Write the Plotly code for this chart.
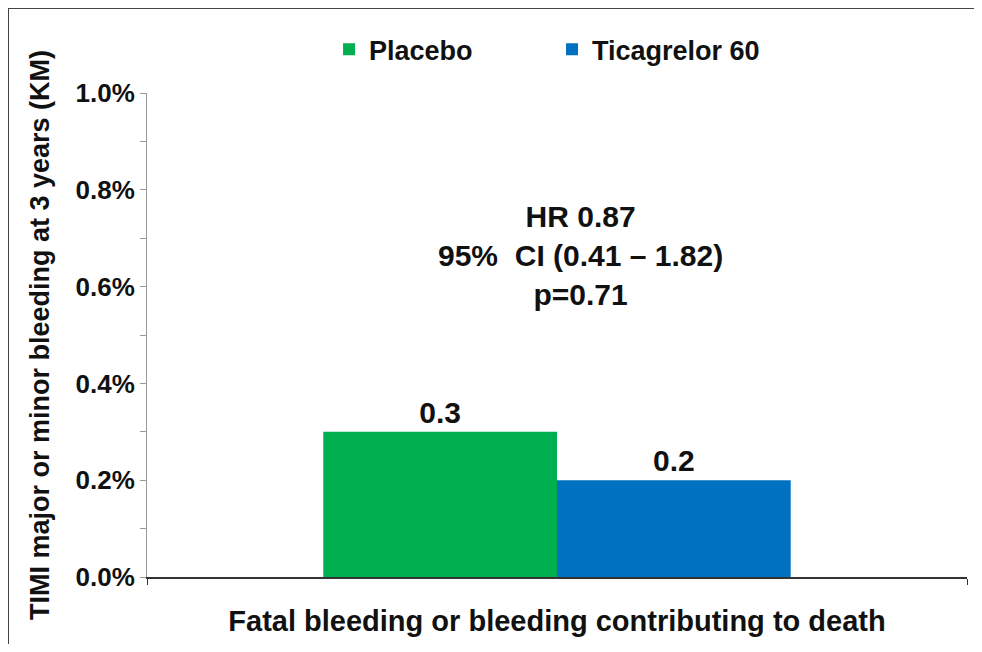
import plotly.graph_objects as go

categories = ["Fatal bleeding or bleeding contributing to death"]
series_names = ["Placebo", "Ticagrelor 60"]
placebo_values = [0.3]
ticagrelor_values = [0.2]
y_tick_values = [0.0, 0.2, 0.4, 0.6, 0.8, 1.0]
y_tick_labels = ["0.0%", "0.2%", "0.4%", "0.6%", "0.8%", "1.0%"]
stats_lines = ["HR 0.87", "95%\u00a0 CI (0.41 \u2013 1.82)", "p=0.71"]

FONT = "Liberation Sans, Arial, sans-serif"

fig = go.Figure()
for name, vals, color in [
    (series_names[0], placebo_values, "#00B050"),
    (series_names[1], ticagrelor_values, "#0070C0"),
]:
    fig.add_trace(go.Bar(
        name=name,
        x=categories,
        y=vals,
        marker_color=color,
        marker_line_width=0,
        text=[f"{v:.1f}" for v in vals],
        textposition="outside",
        textfont=dict(family=FONT, size=30, color="#111", weight="bold"),
        cliponaxis=False,
    ))

# page body has an 8px margin, so keep the figure inside the window (no scrollbars)
fig.update_layout(
    width=966,
    height=636,
    barmode="group",
    bargap=0.43,
    bargroupgap=0,
    paper_bgcolor="white",
    plot_bgcolor="white",
    margin=dict(l=139, r=7, t=85, b=67),
    font=dict(family=FONT, color="#111"),
    legend=dict(
        orientation="h",
        x=0.222, xanchor="left",
        y=1.14, yanchor="top",
        font=dict(family=FONT, size=27, color="#111", weight="bold"),
        entrywidth=178,
        entrywidthmode="pixels",
        itemclick=False,
    ),
    xaxis=dict(
        showline=True, linecolor="#333", linewidth=1.5,
        ticks="outside", tickson="boundaries", ticklen=6, tickcolor="#333",
        showticklabels=False,
        title=dict(text=categories[0],
                   font=dict(family=FONT, size=29, color="#111", weight="bold"),
                   standoff=33),
    ),
    yaxis=dict(
        range=[0, 1.0],
        tickvals=y_tick_values,
        ticktext=y_tick_labels,
        tickfont=dict(family=FONT, size=26, color="#111", weight="bold"),
        showline=True, linecolor="#999", linewidth=1,
        ticks="outside", ticklen=6, tickcolor="#999",
        minor=dict(dtick=0.1, ticks="outside", ticklen=6, tickcolor="#999"),
        showgrid=False, zeroline=False,
        title=dict(text="TIMI major or minor bleeding at 3 years (KM)",
                   font=dict(family=FONT, size=27, color="#111", weight="bold"),
                   standoff=18),
    ),
)

fig.add_annotation(
    xref="paper", yref="paper",
    x=0.5285, y=0.7835,
    text="<br>".join(stats_lines),
    showarrow=False,
    align="center",
    font=dict(family=FONT, size=30, color="#111", weight="bold"),
)

# outer frame
fig.add_shape(
    type="rect", xref="paper", yref="paper",
    x0=-0.1695, x1=1.06, y0=-0.2, y1=1.1756,
    line=dict(color="#444", width=2),
    fillcolor="rgba(0,0,0,0)",
    layer="below",
)

fig.write_html("out.html", config={"displayModeBar": False})
